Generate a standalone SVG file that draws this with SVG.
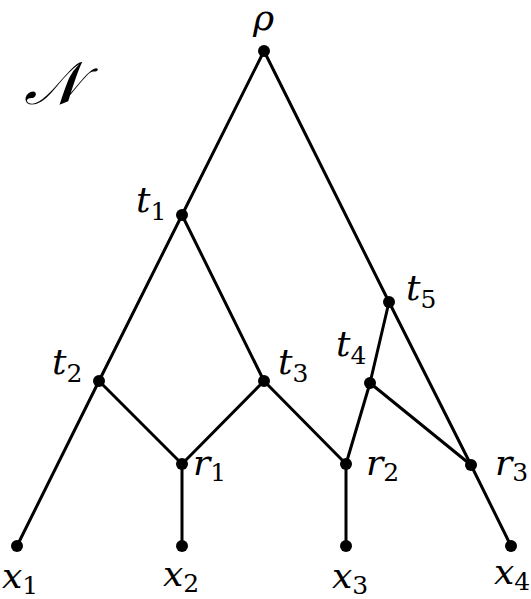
<svg xmlns="http://www.w3.org/2000/svg" width="531" height="599" viewBox="0 0 531 599">
<style>
.e{stroke:#000;stroke-width:3;fill:none;stroke-linecap:round}
.n{fill:#000}
text{font-family:'DejaVu Serif','Liberation Serif',serif;font-style:italic;font-size:36px;fill:#000}
tspan{font-style:normal;font-size:25px}
</style>
<rect width="531" height="599" fill="#fff"/>
<g id="connectors">
<line class="e" x1="264" y1="51" x2="182" y2="215"/>
<line class="e" x1="264" y1="51" x2="389" y2="302"/>
<line class="e" x1="182" y1="215" x2="99" y2="381"/>
<line class="e" x1="182" y1="215" x2="264" y2="381"/>
<line class="e" x1="99" y1="381" x2="17" y2="546"/>
<line class="e" x1="99" y1="381" x2="182" y2="464"/>
<line class="e" x1="264" y1="381" x2="182" y2="464"/>
<line class="e" x1="264" y1="381" x2="346" y2="464"/>
<line class="e" x1="389" y1="302" x2="370" y2="383"/>
<line class="e" x1="389" y1="302" x2="471" y2="465"/>
<line class="e" x1="370" y1="383" x2="346" y2="464"/>
<line class="e" x1="370" y1="383" x2="471" y2="465"/>
<line class="e" x1="182" y1="464" x2="182" y2="546"/>
<line class="e" x1="346" y1="464" x2="346" y2="546"/>
<line class="e" x1="471" y1="465" x2="511" y2="546"/>
</g>
<g id="rho"><circle class="n" cx="264" cy="51" r="6"/><text x="253" y="30">ρ</text></g>
<g id="t1"><circle class="n" cx="182" cy="215" r="6"/><text x="136" y="212">t<tspan dy="8">1</tspan></text></g>
<g id="t2"><circle class="n" cx="99" cy="381" r="6"/><text x="52" y="374">t<tspan dy="8">2</tspan></text></g>
<g id="t3"><circle class="n" cx="264" cy="381" r="6"/><text x="278" y="374">t<tspan dy="8">3</tspan></text></g>
<g id="t4"><circle class="n" cx="370" cy="383" r="6"/><text x="336" y="356">t<tspan dy="8">4</tspan></text></g>
<g id="t5"><circle class="n" cx="389" cy="302" r="6"/><text x="406" y="300">t<tspan dy="8">5</tspan></text></g>
<g id="r1"><circle class="n" cx="182" cy="464" r="6"/><text x="193" y="475">r<tspan dy="6">1</tspan></text></g>
<g id="r2"><circle class="n" cx="346" cy="464" r="6"/><text x="366" y="475">r<tspan dy="6">2</tspan></text></g>
<g id="r3"><circle class="n" cx="471" cy="465" r="6"/><text x="495" y="475">r<tspan dy="6">3</tspan></text></g>
<g id="x1"><circle class="n" cx="17" cy="546" r="6"/><text x="2" y="588">x<tspan dy="6">1</tspan></text></g>
<g id="x2"><circle class="n" cx="182" cy="546" r="6"/><text x="163" y="586">x<tspan dy="6">2</tspan></text></g>
<g id="x3"><circle class="n" cx="346" cy="546" r="6"/><text x="332" y="588">x<tspan dy="6">3</tspan></text></g>
<g id="x4"><circle class="n" cx="511" cy="546" r="6"/><text x="494" y="584">x<tspan dy="6">4</tspan></text></g>
<g id="label-N"><text x="24" y="104" style="font-size:60px">𝒩</text></g>
</svg>
